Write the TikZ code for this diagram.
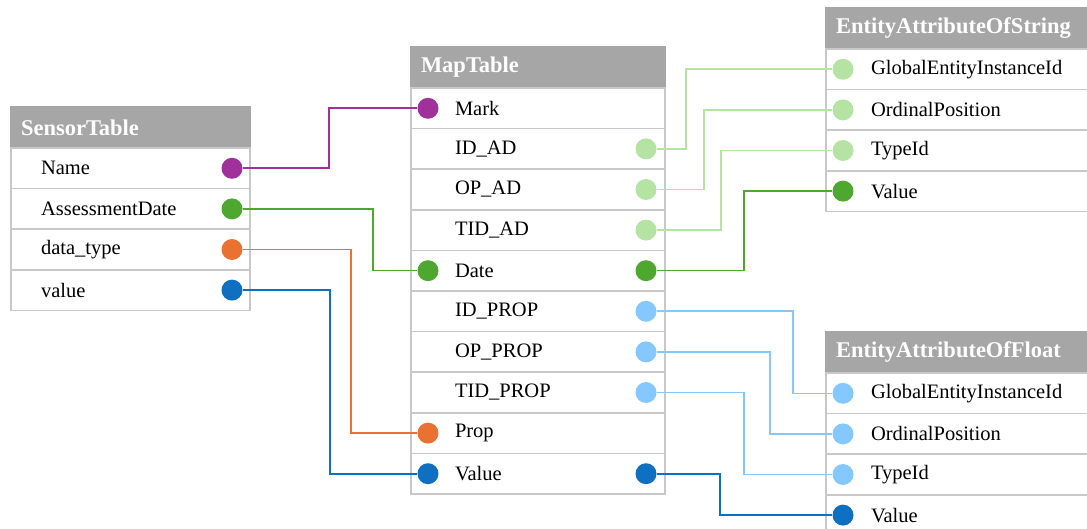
\documentclass[tikz,border=0pt]{standalone}
\usepackage{fontspec}
\setmainfont{Liberation Serif}
\usetikzlibrary{positioning}
\definecolor{hdrgray}{HTML}{A6A6A6}
\definecolor{rowgray}{HTML}{C8C8C8}
\definecolor{purp}{HTML}{A0309A}
\definecolor{grn}{HTML}{4EA72E}
\definecolor{lgrn}{HTML}{B4E3A4}
\definecolor{orng}{HTML}{E97132}
\definecolor{blu}{HTML}{0F6FC1}
\definecolor{lblu}{HTML}{84C8FF}
\tikzset{
    %Define style for table headers
    tblhead/.style={
           rectangle,
           fill=hdrgray, draw=hdrgray,
           line width=1.5pt,
           outer sep=0pt,
           minimum height=41pt,
           inner xsep=10pt, inner ysep=0pt,
           text width=#1,
           align=left,
           text=white,
           font=\fontsize{22.5}{26}\selectfont\bfseries,
           },
    %Define style for table rows
    field/.style 2 args={
           rectangle,
           draw=rowgray,
           line width=1.5pt,
           outer sep=0pt,
           minimum height=40.6pt,
           inner xsep=#1, inner ysep=0pt,
           text width=#2,
           align=left,
           font=\fontsize{20.5}{24}\selectfont,
           },
    srow/.style={field={30pt}{179pt}},
    mrow/.style={field={44pt}{166pt}},
    erow/.style={field={45pt}{210pt}},
    %Define style for key dots
    dot/.style={
           circle,
           fill=#1,
           inner sep=0pt,
           minimum width=20pt,
           minimum height=21pt,
           },
    % Define connector style
    link/.style={
           draw=#1,
           line width=1.6pt,
           },
}
\begin{document}
\begin{tikzpicture}[x=1pt,y=-1pt,node distance=0pt]
\useasboundingbox (0,0) rectangle (1087,529);
% SensorTable
\node[tblhead=219pt, anchor=north west] (sensor) at (11,107) {SensorTable};
\node[srow, below=of sensor](sName){Name};
\node[srow, below=of sName](sDate){AssessmentDate};
\node[srow, below=of sDate](sType){data\_type};
\node[srow, below=of sType](sValue){value};
% MapTable
\node[tblhead=234pt, anchor=north west] (map) at (411,47) {MapTable};
\node[mrow, below=of map](mMark){Mark};
\node[mrow, below=of mMark](mIdAd){ID\_AD};
\node[mrow, below=of mIdAd](mOpAd){OP\_AD};
\node[mrow, below=of mOpAd](mTidAd){TID\_AD};
\node[mrow, below=of mTidAd](mDate){Date};
\node[mrow, below=of mDate](mIdProp){ID\_PROP};
\node[mrow, below=of mIdProp](mOpProp){OP\_PROP};
\node[mrow, below=of mOpProp](mTidProp){TID\_PROP};
\node[mrow, below=of mTidProp](mProp){Prop};
\node[mrow, below=of mProp](mValue){Value};
% EntityAttributeOfString
\node[tblhead=280pt, anchor=north west] (str) at (826,8) {EntityAttributeOfString};
\node[erow, below=of str](strId){GlobalEntityInstanceId};
\node[erow, below=of strId](strOp){OrdinalPosition};
\node[erow, below=of strOp](strTid){TypeId};
\node[erow, below=of strTid](strValue){Value};
% EntityAttributeOfFloat
\node[tblhead=280pt, anchor=north west] (flt) at (826,332) {EntityAttributeOfFloat};
\node[erow, below=of flt](fltId){GlobalEntityInstanceId};
\node[erow, below=of fltId](fltOp){OrdinalPosition};
\node[erow, below=of fltOp](fltTid){TypeId};
\node[erow, below=of fltTid](fltValue){Value};
% dots
\node[dot=purp] (dsName) at ([xshift=-18pt]sName.east) {};
\node[dot=grn] (dsDate) at ([xshift=-18pt]sDate.east) {};
\node[dot=orng] (dsType) at ([xshift=-18pt]sType.east) {};
\node[dot=blu] (dsValue) at ([xshift=-18pt]sValue.east) {};
\node[dot=purp] (dmMark) at ([xshift=17pt]mMark.west) {};
\node[dot=grn] (dmDateL) at ([xshift=17pt]mDate.west) {};
\node[dot=orng] (dmProp) at ([xshift=17pt]mProp.west) {};
\node[dot=blu] (dmValueL) at ([xshift=17pt]mValue.west) {};
\node[dot=lgrn] (dmIdAd) at ([xshift=-19pt]mIdAd.east) {};
\node[dot=lgrn] (dmOpAd) at ([xshift=-19pt]mOpAd.east) {};
\node[dot=lgrn] (dmTidAd) at ([xshift=-19pt]mTidAd.east) {};
\node[dot=grn] (dmDateR) at ([xshift=-19pt]mDate.east) {};
\node[dot=lblu] (dmIdProp) at ([xshift=-19pt]mIdProp.east) {};
\node[dot=lblu] (dmOpProp) at ([xshift=-19pt]mOpProp.east) {};
\node[dot=lblu] (dmTidProp) at ([xshift=-19pt]mTidProp.east) {};
\node[dot=blu] (dmValueR) at ([xshift=-19pt]mValue.east) {};
\node[dot=lgrn] (dstrId) at ([xshift=17pt]strId.west) {};
\node[dot=lgrn] (dstrOp) at ([xshift=17pt]strOp.west) {};
\node[dot=lgrn] (dstrTid) at ([xshift=17pt]strTid.west) {};
\node[dot=grn] (dstrValue) at ([xshift=17pt]strValue.west) {};
\node[dot=lblu] (dfltId) at ([xshift=17pt]fltId.west) {};
\node[dot=lblu] (dfltOp) at ([xshift=17pt]fltOp.west) {};
\node[dot=lblu] (dfltTid) at ([xshift=17pt]fltTid.west) {};
\node[dot=blu] (dfltValue) at ([xshift=17pt]fltValue.west) {};
% connectors
\draw[link=purp] (dsName) -- ++(97,0) |- (dmMark.west);
\draw[link=grn] (dsDate) -- ++(141,0) |- (dmDateL.west);
\draw[link=orng] (dsType) -- ++(119,0) |- (dmProp.west);
\draw[link=blu] (dsValue) -- ++(98,0) |- (dmValueL.west);
\draw[link=lgrn] (dmIdAd) -- ++(40,0) |- (dstrId.west);
\draw[link=lgrn] (dmOpAd) -- ++(58,0) |- (dstrOp.west);
\draw[link=lgrn] (dmTidAd) -- ++(75,0) |- (dstrTid.west);
\draw[link=grn] (dmDateR) -- ++(98,0) |- (dstrValue.west);
\draw[link=lblu] (dmIdProp) -- ++(147,0) |- (dfltId.west);
\draw[link=lblu] (dmOpProp) -- ++(124,0) |- (dfltOp.west);
\draw[link=lblu] (dmTidProp) -- ++(98,0) |- (dfltTid.west);
\draw[link=blu] (dmValueR) -- ++(74,0) |- (dfltValue.west);
\end{tikzpicture}
\end{document}
